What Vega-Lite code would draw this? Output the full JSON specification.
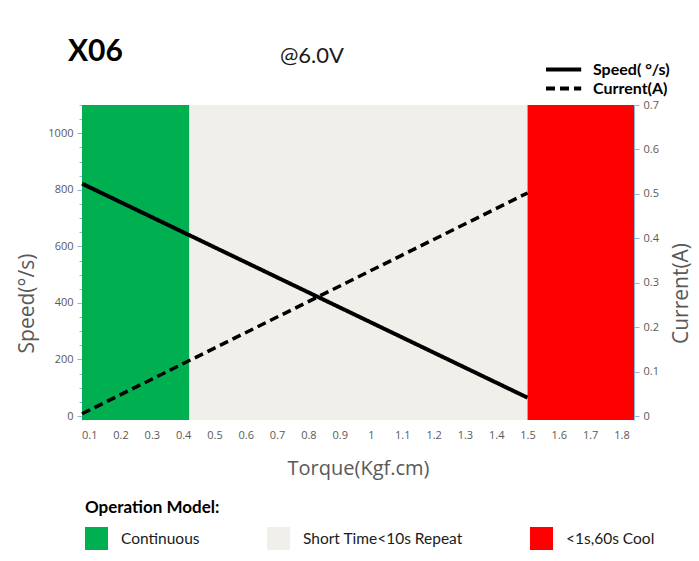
{
  "$schema": "https://vega.github.io/schema/vega-lite/v6.json",
  "width": 552,
  "height": 315,
  "autosize": {"type": "none"},
  "padding": {"left": 82, "top": 105, "right": 65, "bottom": 141},
  "background": "white",
  "config": {"font": "Open Sans", "view": {"stroke": null}, "axisX": {"labelOverlap": false, "labelBound": false}},
  "title": {
    "text": "X06",
    "anchor": "start",
    "frame": "group",
    "dx": -14,
    "offset": -22,
    "font": "Lato",
    "fontSize": 30,
    "fontWeight": "bold",
    "color": "#000000"
  },
  "datasets": {
    "zones": [
      {"zone": "Continuous", "torque": 0.077, "torque_end": 0.42},
      {"zone": "Short Time<10s Repeat", "torque": 0.42, "torque_end": 1.5},
      {"zone": "<1s,60s Cool", "torque": 1.5, "torque_end": 1.84}
    ],
    "curves": [
      {"series": "Speed( °/s)", "torque": 0.077, "speed": 822},
      {"series": "Speed( °/s)", "torque": 1.5, "speed": 65},
      {"series": "Current(A)", "torque": 0.077, "current": 0.005},
      {"series": "Current(A)", "torque": 1.5, "current": 0.502}
    ],
    "notes": [
      {"note": "@6.0V"}
    ]
  },
  "layer": [
    {
      "data": {"name": "zones"},
      "mark": {"type": "rect"},
      "encoding": {
        "x": {
          "field": "torque", "type": "quantitative",
          "scale": {"domain": [0.077, 1.84], "nice": false, "zero": false},
          "axis": {
            "values": [0.1,0.2,0.3,0.4,0.5,0.6,0.7,0.8,0.9,1,1.1,1.2,1.3,1.4,1.5,1.6,1.7,1.8],
            "format": ".1~f", "domain": false, "ticks": false, "grid": false,
            "labelOverlap": false, "labelBound": false,
            "labelFont": "Open Sans", "labelColor": "#595959", "labelFontSize": 11, "labelPadding": 9,
            "title": "Torque(Kgf.cm)", "titleFont": "Open Sans", "titleFontSize": 20, "titleFontWeight": "normal",
            "titleColor": "#595959", "titlePadding": 18
          }
        },
        "x2": {"field": "torque_end"},
        "color": {
          "field": "zone", "type": "nominal",
          "scale": {
            "domain": ["Continuous", "Short Time<10s Repeat", "<1s,60s Cool"],
            "range": ["#00B050", "#F0EFEA", "#FF0000"]
          },
          "legend": {
            "title": "Operation Model:",
            "orient": "none", "legendX": 3, "legendY": 395,
            "direction": "horizontal", "padding": 0,
            "titleFont": "Lato", "titleFontSize": 17, "titleFontWeight": "bold", "titleColor": "#000000",
            "titlePadding": 10,
            "symbolType": "square", "symbolSize": 529, "symbolStrokeWidth": 0, "symbolOpacity": 1,
            "labelFont": "Lato", "labelFontSize": 15.5, "labelColor": "#1a1a1a", "labelOffset": 13, "labelLimit": 300,
            "columnPadding": 67
          }
        }
      }
    },
    {
      "data": {"name": "curves"},
      "transform": [{"filter": "datum.series === 'Speed( °/s)'"}],
      "mark": {"type": "line", "color": "#000000", "strokeWidth": 4},
      "encoding": {
        "x": {
          "field": "torque", "type": "quantitative",
          "axis": {
            "values": [0.1,0.2,0.3,0.4,0.5,0.6,0.7,0.8,0.9,1,1.1,1.2,1.3,1.4,1.5,1.6,1.7,1.8],
            "format": ".1~f", "domain": false, "ticks": false, "grid": false,
            "labelOverlap": false, "labelBound": false,
            "labelFont": "Open Sans", "labelColor": "#595959", "labelFontSize": 11, "labelPadding": 9,
            "title": "Torque(Kgf.cm)", "titleFont": "Open Sans", "titleFontSize": 20, "titleFontWeight": "normal",
            "titleColor": "#595959", "titlePadding": 18
          }
        },
        "y": {
          "field": "speed", "type": "quantitative",
          "scale": {"domain": [-14, 1100], "nice": false, "zero": false},
          "axis": {
            "orient": "left", "values": [0,200,400,600,800,1000], "format": "d", "grid": false,
            "domainColor": "#8EB4E3", "tickColor": "#8EB4E3", "tickSize": 5,
            "labelFont": "Open Sans", "labelColor": "#595959", "labelFontSize": 11, "labelPadding": 4,
            "title": "Speed(°/s)", "titleFont": "Open Sans", "titleFontSize": 21, "titleFontWeight": "normal",
            "titleColor": "#595959", "titleX": -55, "titleY": 198, "titleAngle": 270,
            "titleBaseline": "middle", "titleAlign": "center"
          }
        },
        "strokeDash": {
          "field": "series", "type": "nominal",
          "scale": {"domain": ["Speed( °/s)", "Current(A)"], "range": [[1, 0], [9, 5]]},
          "legend": {
            "title": null, "orient": "none", "legendX": 471.6, "legendY": -45.5, "padding": 0,
            "symbolType": "M-2.2,0H2.2", "symbolSize": 256, "symbolStrokeWidth": 4, "symbolStrokeColor": "#000000",
            "symbolFillColor": "transparent",
            "labelFont": "Lato", "labelFontSize": 16, "labelFontWeight": "bold", "labelColor": "#000000", "labelOffset": 19.4,
            "rowPadding": 1
          }
        }
      }
    },
    {
      "data": {"name": "curves"},
      "transform": [{"filter": "datum.series === 'Current(A)'"}],
      "mark": {"type": "line", "color": "#000000", "strokeWidth": 3.5},
      "encoding": {
        "x": {
          "field": "torque", "type": "quantitative",
          "axis": {
            "values": [0.1,0.2,0.3,0.4,0.5,0.6,0.7,0.8,0.9,1,1.1,1.2,1.3,1.4,1.5,1.6,1.7,1.8],
            "format": ".1~f", "domain": false, "ticks": false, "grid": false,
            "labelOverlap": false, "labelBound": false,
            "labelFont": "Open Sans", "labelColor": "#595959", "labelFontSize": 11, "labelPadding": 9,
            "title": "Torque(Kgf.cm)", "titleFont": "Open Sans", "titleFontSize": 20, "titleFontWeight": "normal",
            "titleColor": "#595959", "titlePadding": 18
          }
        },
        "y": {
          "field": "current", "type": "quantitative",
          "scale": {"domain": [-0.009, 0.7], "nice": false, "zero": false},
          "axis": {
            "orient": "right", "values": [0,0.1,0.2,0.3,0.4,0.5,0.6,0.7], "format": ".1~f", "grid": false,
            "domainColor": "#8EB4E3", "tickColor": "#8EB4E3", "tickSize": 5,
            "labelFont": "Open Sans", "labelColor": "#595959", "labelFontSize": 11, "labelPadding": 4,
            "title": "Current(A)", "titleFont": "Open Sans", "titleFontSize": 21, "titleFontWeight": "normal",
            "titleColor": "#595959", "titleX": 47, "titleY": 188, "titleAngle": 270,
            "titleBaseline": "middle", "titleAlign": "center"
          }
        },
        "strokeDash": {"field": "series", "type": "nominal"}
      }
    },
    {
      "data": {"name": "notes"},
      "mark": {"type": "text", "align": "left", "baseline": "alphabetic", "font": "Lato", "fontSize": 22, "color": "#1a1a1a", "clip": false},
      "encoding": {
        "text": {"field": "note", "type": "nominal"},
        "x": {
          "datum": 0.709, "type": "quantitative",
          "axis": {
            "values": [0.1,0.2,0.3,0.4,0.5,0.6,0.7,0.8,0.9,1,1.1,1.2,1.3,1.4,1.5,1.6,1.7,1.8],
            "format": ".1~f", "domain": false, "ticks": false, "grid": false,
            "labelOverlap": false, "labelBound": false,
            "labelFont": "Open Sans", "labelColor": "#595959", "labelFontSize": 11, "labelPadding": 9,
            "title": "Torque(Kgf.cm)", "titleFont": "Open Sans", "titleFontSize": 20, "titleFontWeight": "normal",
            "titleColor": "#595959", "titlePadding": 18
          }
        },
        "y": {
          "datum": 1250, "type": "quantitative",
          "scale": {"domain": [-14, 1100], "nice": false, "zero": false},
          "axis": {
            "orient": "left", "values": [50,100,150,250,300,350,450,500,550,650,700,750,850,900,950,1050,1100],
            "labels": false, "domain": false, "grid": false, "title": null,
            "tickColor": "#8EB4E3", "tickSize": 3
          }
        }
      }
    }
  ],
  "resolve": {"scale": {"y": "independent"}}
}
